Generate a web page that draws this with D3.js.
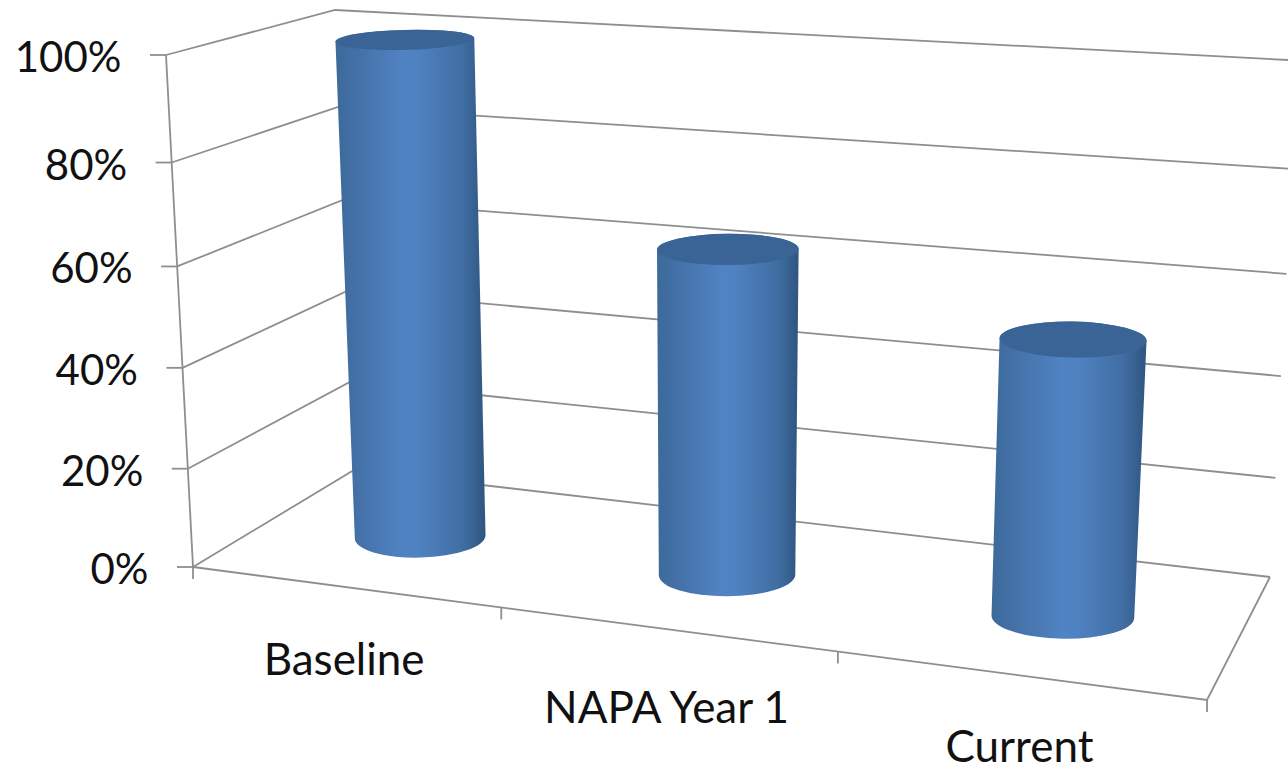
<!DOCTYPE html>
<html>
<head>
<meta charset="utf-8">
<script src="https://cdn.jsdelivr.net/npm/d3@7"></script>
<style>
  html, body { margin: 0; padding: 0; background: #fff; overflow: hidden; }
  svg { display: block; }
  text { font-family: Lato, "Open Sans", sans-serif; fill: #111; }
</style>
</head>
<body>
<div id="chart"></div>
<script>
// chart values
const categories = ["Baseline", "NAPA Year 1", "Current"];
const values = [100, 65, 54];
const valueTicks = [0, 20, 40, 60, 80, 100];

const width = 1288, height = 766;

// box corners on screen: [x, y], front/back, left/right, floor/top
const box = {
  fl0: [193, 567], fr0: [1207, 700], bl0: [354, 470], br0: [1270, 577],
  fl1: [166, 55],  fr1: [1236, 160], bl1: [335, 10],  br1: [1298, 60.5]
};

// perspective: category slots get wider towards the viewer on the right
const slot = d3.scaleLinear().domain([0, 1, 2, 3]).range([0, 0.304, 0.636, 1]);
// same idea for height, the upper bands are a little taller
const level = d3.scaleLinear().domain(valueTicks).range([0, 0.192, 0.389, 0.587, 0.79, 1]);
// cylinders stand a touch proud of the gridlines
const barLevel = d => level(d) * 1.009;

function mix(a, b, t) { return [a[0] + (b[0] - a[0]) * t, a[1] + (b[1] - a[1]) * t]; }

// cat = position along category axis, depth 0 front .. 1 back, v 0..1 height
function project(cat, depth, v) {
  const u = slot(cat);
  const floor = mix(mix(box.fl0, box.fr0, u), mix(box.bl0, box.br0, u), depth);
  const top = mix(mix(box.fl1, box.fr1, u), mix(box.bl1, box.br1, u), depth);
  return mix(floor, top, v);
}

const svg = d3.select("#chart").append("svg")
  .attr("width", width)
  .attr("height", height)
  .attr("viewBox", "0 0 " + width + " " + height);

const line = d3.line();
const gridColor = "#8e8e8e";

// gridlines on side wall and back wall
const grid = svg.append("g")
  .attr("fill", "none")
  .attr("stroke", gridColor)
  .attr("stroke-width", 1.8);

grid.selectAll(".grid")
  .data(valueTicks)
  .join("path")
    .attr("class", "grid")
    .attr("d", d => line([project(0, 0, level(d)), project(0, 1, level(d)), project(3, 1, level(d))]));

// value axis, floor edges
grid.append("path").attr("d", line([project(0, 0, 0), project(0, 0, 1)]));
grid.append("path").attr("d", line([project(0, 0, 0), project(3, 0, 0), project(3, 1, 0)]));

// value ticks
grid.selectAll(".ytick")
  .data(valueTicks)
  .join("path")
    .attr("class", "ytick")
    .attr("d", d => {
      const p = project(0, 0, level(d));
      return line([p, [p[0] - 16, p[1]]]);
    });

// category ticks
grid.selectAll(".xtick")
  .data(d3.range(categories.length + 1))
  .join("path")
    .attr("class", "xtick")
    .attr("d", d => {
      const p = project(d, 0, 0);
      return line([p, [p[0], p[1] + 12]]);
    });

// value labels
svg.selectAll(".ylabel")
  .data(valueTicks)
  .join("text")
    .attr("class", "ylabel")
    .attr("x", d => project(0, 0, level(d))[0] - 44.5)
    .attr("y", d => project(0, 0, level(d))[1] + 17)
    .attr("text-anchor", "end")
    .attr("font-size", 42)
    .text(d => d + "%");

// category labels, they sit at slightly uneven distances from the floor edge
const labelDrop = [88, 93, 86];
svg.selectAll(".xlabel")
  .data(categories)
  .join("text")
    .attr("class", "xlabel")
    .attr("x", (d, i) => project(i + 0.5, 0, 0)[0] - 3)
    .attr("y", (d, i) => project(i + 0.5, 0, 0)[1] + labelDrop[i])
    .attr("text-anchor", "middle")
    .attr("font-size", 44)
    .text(d => d);

// cylinder shading
const defs = svg.append("defs");
const shade = defs.append("linearGradient").attr("id", "body");
[[0, "#3c6a9a"], [0.12, "#436fa5"], [0.45, "#5083c3"], [0.55, "#4f82c1"],
 [0.85, "#406ea3"], [1, "#2f5580"]].forEach(s => {
  shade.append("stop").attr("offset", s[0]).attr("stop-color", s[1]);
});

// ellipse size follows the position on screen
const ryScale = d3.scaleLinear().domain([40, 340, 615]).range([10, 18, 22]);
const tiltScale = d3.scaleLinear().domain([0.15, 0.82]).range([-1.5, 1]);
function rxAt(cat, v) { return 64 + 9 * slot(cat) + 4 * v; }

function disc(cat, v) {
  const c = project(cat, 0.5, v);
  const rx = rxAt(cat, v), ry = ryScale(c[1]), tilt = tiltScale(slot(cat));
  const a = tilt * Math.PI / 180;
  const dx = rx * Math.cos(a), dy = rx * Math.sin(a);
  return { c, rx, ry, tilt, left: [c[0] - dx, c[1] - dy], right: [c[0] + dx, c[1] + dy] };
}

const bars = svg.selectAll(".bar")
  .data(values)
  .join("g")
    .attr("class", "bar")
    .style("filter", "blur(0.5px)");

bars.append("path")
  .attr("fill", "url(#body)")
  .attr("d", (d, i) => {
    const b = disc(i + 0.5, 0), t = disc(i + 0.5, barLevel(d));
    return "M" + t.left + "L" + b.left +
      "A" + b.rx + "," + b.ry + " " + b.tilt + " 0 0 " + b.right +
      "L" + t.right +
      "A" + t.rx + "," + t.ry + " " + t.tilt + " 0 0 " + t.left + "Z";
  });

bars.append("ellipse")
  .attr("fill", "#3a6495")
  .attr("rx", (d, i) => disc(i + 0.5, barLevel(d)).rx)
  .attr("ry", (d, i) => disc(i + 0.5, barLevel(d)).ry)
  .attr("transform", (d, i) => {
    const t = disc(i + 0.5, barLevel(d));
    return "translate(" + t.c + ") rotate(" + t.tilt + ")";
  });
</script>
</body>
</html>
